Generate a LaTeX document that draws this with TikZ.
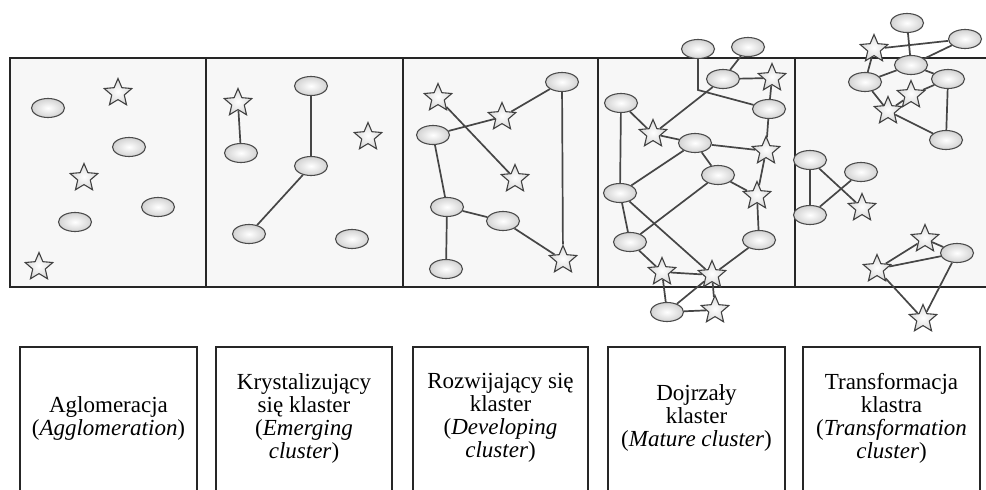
\documentclass[tikz,border=0pt]{standalone}
\usepackage{fontspec}
\setmainfont{Liberation Serif}
\usetikzlibrary{shapes.geometric}
\pgfdeclarelayer{bg}
\pgfsetlayers{bg,main}
\tikzset{
  el/.style={ellipse, draw=black!70, line width=1.1pt, inner color=white, outer color=gray!35,
    minimum width=33pt, minimum height=19pt, inner sep=0pt},
  st/.style={star, star points=5, star point ratio=2.2, draw=black!75, line width=1.1pt,
    inner color=white, outer color=gray!30, minimum size=29pt, inner sep=0pt},
  ln/.style={draw=gray!55!black, line width=1.7pt},
  frame/.style={draw=black!85, line width=2pt},
  lbox/.style={draw=black!85, line width=1.6pt},
  lbl/.style={align=center, font=\fontsize{23}{23}\selectfont, inner sep=0pt}
}
\begin{document}
\begin{tikzpicture}[x=1pt,y=-1pt]
\useasboundingbox (0,0) rectangle (986,490);
\begin{pgfonlayer}{bg}
\fill[white] (0,0) rectangle (986,490);
\fill[gray!6] (10,58) rectangle (990,287);
\draw[frame] (992,58) -- (10,58) -- (10,287) -- (992,287);
\foreach \xx in {206,403,598,795} \draw[frame] (\xx,58) -- (\xx,287);
\end{pgfonlayer}

% Panel 1
\node[el] (a1) at (48,108) {};
\node[st] (a2) at (118,93) {};
\node[el] (a3) at (129,147) {};
\node[st] (a4) at (84,178) {};
\node[el] (a5) at (158,207) {};
\node[el] (a6) at (75,222) {};
\node[st] (a7) at (39,267) {};

% Panel 2
\node[st] (b1) at (238,103) {};
\node[el] (b2) at (241,153) {};
\node[el] (b3) at (311,86) {};
\node[el] (b4) at (311,166) {};
\node[st] (b5) at (368,137) {};
\node[el] (b6) at (249,234) {};
\node[el] (b7) at (352,239) {};

% Panel 3
\node[st] (c1) at (438,98) {};
\node[el] (c2) at (562,82) {};
\node[st] (c3) at (502,117) {};
\node[el] (c4) at (433,135) {};
\node[st] (c5) at (515,179) {};
\node[el] (c6) at (447,207) {};
\node[el] (c7) at (503,221) {};
\node[st] (c8) at (563,260) {};
\node[el] (c9) at (446,269) {};

% Panel 4
\node[el] (d1) at (698,49) {};
\node[el] (d2) at (748,47) {};
\node[el] (d3) at (723,79) {};
\node[st] (d4) at (772,78) {};
\node[el] (d5) at (621,103) {};
\node[el] (d6) at (769,109) {};
\node[st] (d7) at (653,134) {};
\node[el] (d8) at (695,143) {};
\node[st] (d9) at (766,151) {};
\node[el] (d10) at (718,175) {};
\node[el] (d11) at (620,193) {};
\node[st] (d12) at (757,196) {};
\node[el] (d13) at (630,242) {};
\node[el] (d14) at (759,240) {};
\node[st] (d15) at (662,272) {};
\node[st] (d16) at (712,275) {};
\node[el] (d17) at (667,312) {};
\node[st] (d18) at (715,310) {};
\coordinate (dj) at (698,90);

% Panel 5
\node[el] (e1) at (907,23) {};
\node[el] (e2) at (965,39) {};
\node[st] (e3) at (874,49) {};
\node[el] (e4) at (911,65) {};
\node[el] (e5) at (865,82) {};
\node[el] (e6) at (948,79) {};
\node[st] (e7) at (911,95) {};
\node[st] (e8) at (888,111) {};
\node[el] (e9) at (946,140) {};
\node[el] (e10) at (810,160) {};
\node[el] (e11) at (861,172) {};
\node[st] (e12) at (862,208) {};
\node[el] (e13) at (810,215) {};
\node[st] (e14) at (925,239) {};
\node[el] (e15) at (957,253) {};
\node[st] (e16) at (877,269) {};
\node[st] (e17) at (923,319) {};

\begin{pgfonlayer}{bg}
% Panel 2 edges
\draw[ln] (b1) -- (b2);
\draw[ln] (b3) -- (b4);
\draw[ln] (b4) -- (b6);
% Panel 3 edges
\draw[ln] (c1) -- (c5);
\draw[ln] (c2) -- (c3);
\draw[ln] (c3) -- (c4);
\draw[ln] (c4) -- (c6);
\draw[ln] (c6) -- (c9);
\draw[ln] (c6) -- (c7);
\draw[ln] (c7) -- (c8);
\draw[ln] (c2) -- (c8);
% Panel 4 edges
\draw[ln] (d1) -- (dj) -- (d6);
\draw[ln] (d3) -- (d7);
\draw[ln] (d2) -- (d3);
\draw[ln] (d3) -- (d4);
\draw[ln] (d4) -- (d6);
\draw[ln] (d5) -- (d7);
\draw[ln] (d5) -- (d11);
\draw[ln] (d7) -- (d8);
\draw[ln] (d8) -- (d9);
\draw[ln] (d6) -- (d9);
\draw[ln] (d8) -- (d11);
\draw[ln] (d8) -- (d10);
\draw[ln] (d10) -- (d12);
\draw[ln] (d9) -- (d12);
\draw[ln] (d10) -- (d13);
\draw[ln] (d11) -- (d13);
\draw[ln] (d11) -- (d16);
\draw[ln] (d12) -- (d14);
\draw[ln] (d14) -- (d16);
\draw[ln] (d13) -- (d15);
\draw[ln] (d15) -- (d16);
\draw[ln] (d15) -- (d17);
\draw[ln] (d16) -- (d17);
\draw[ln] (d17) -- (d18);
\draw[ln] (d16) -- (d18);
% Panel 5 edges
\draw[ln] (e1) -- (e4);
\draw[ln] (e3) -- (e2);
\draw[ln] (e3) -- (e5);
\draw[ln] (e4) -- (e2);
\draw[ln] (e5) -- (e4);
\draw[ln] (e4) -- (e6);
\draw[ln] (e5) -- (e8);
\draw[ln] (e7) -- (e6);
\draw[ln] (e8) -- (e7);
\draw[ln] (e8) -- (e9);
\draw[ln] (e6) -- (e9);
\draw[ln] (e10) -- (e13);
\draw[ln] (e10) -- (e12);
\draw[ln] (e13) -- (e11);
\draw[ln] (e16) -- (e14);
\draw[ln] (e16) -- (e15);
\draw[ln] (e14) -- (e15);
\draw[ln] (e16) -- (e17);
\draw[ln] (e15) -- (e17);
\end{pgfonlayer}

% Label boxes (open at the bottom)
\draw[lbox] (20,495) -- (20,347) -- (197,347) -- (197,495);
\draw[lbox] (216,495) -- (216,347) -- (392,347) -- (392,495);
\draw[lbox] (413,495) -- (413,347) -- (588,347) -- (588,495);
\draw[lbox] (608,495) -- (608,347) -- (785,347) -- (785,495);
\draw[lbox] (803,495) -- (803,347) -- (980,347) -- (980,495);

\node[lbl] (t1) at (108.5,418) {Aglomeracja\\(\textit{Agglomeration})};
\node[lbl] (t2) at (304,418) {Krystalizujący\\się klaster\\(\textit{Emerging}\\\textit{cluster})};
\node[lbl] (t3) at (500.5,418) {Rozwijający się\\klaster\\(\textit{Developing}\\\textit{cluster})};
\node[lbl] (t4) at (696.5,418) {Dojrzały\\klaster\\(\textit{Mature cluster})};
\node[lbl] (t5) at (891.5,418) {Transformacja\\klastra\\(\textit{Transformation}\\\textit{cluster})};
\end{tikzpicture}
\end{document}
